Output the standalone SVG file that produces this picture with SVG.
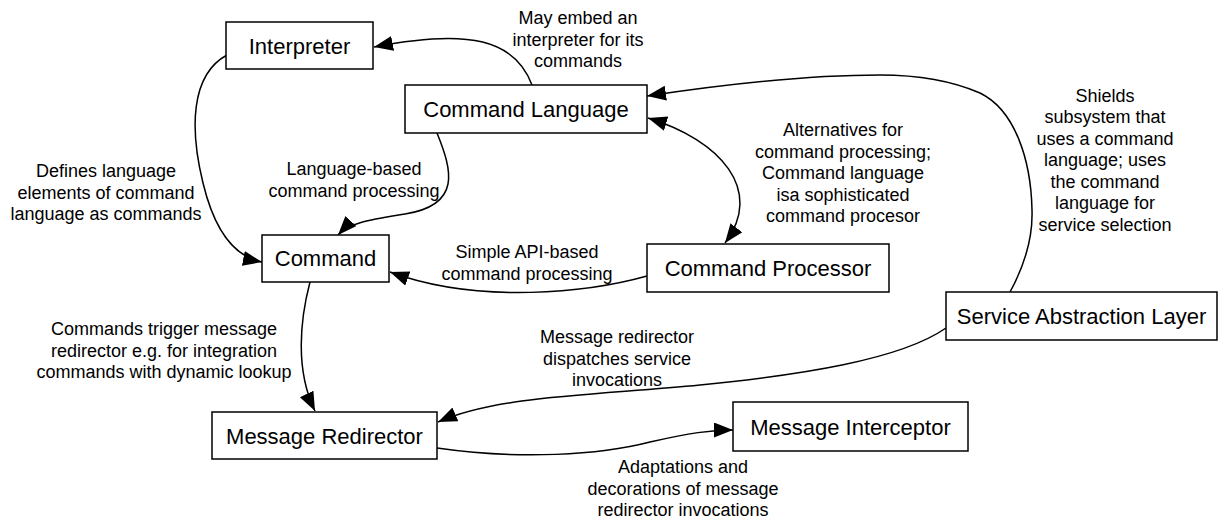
<svg xmlns="http://www.w3.org/2000/svg" width="1218" height="519" viewBox="0 0 1218 519">
<style>
.node rect{fill:#fff;stroke:#000;stroke-width:1.5}
.node text{font-family:"Liberation Sans",Arial,sans-serif;font-size:22px;text-anchor:middle;fill:#000}
.edge{fill:none;stroke:#000;stroke-width:1.5}
.lbl{font-family:"Liberation Sans",Arial,sans-serif;font-size:18px;text-anchor:middle;fill:#000}
</style>
<defs>
<marker id="arr" markerUnits="userSpaceOnUse" markerWidth="22" markerHeight="18" refX="19" refY="7.5" orient="auto">
<path d="M0,0 L19,7.5 L0,15 Z" fill="#000"/>
</marker>
<marker id="arrS" markerUnits="userSpaceOnUse" markerWidth="22" markerHeight="18" refX="19" refY="7.5" orient="auto-start-reverse">
<path d="M0,0 L19,7.5 L0,15 Z" fill="#000"/>
</marker>
</defs>
<rect width="1218" height="519" fill="#fff"/>
<g id="connectors">
<path class="edge" d="M532,85 C515,40 470,28 374,47" marker-end="url(#arr)"/>
<path class="edge" d="M227,55 C190,75 190,130 203,183 C210,212 225,255 262,262" marker-end="url(#arr)"/>
<path class="edge" d="M437,133 C452,170 462,205 405,214 C375,219 350,222 338,235" marker-end="url(#arr)"/>
<path class="edge" d="M647,276 C590,292 480,305 390,272" marker-end="url(#arr)"/>
<path class="edge" d="M648,118 C720,140 765,190 725,243" marker-start="url(#arrS)" marker-end="url(#arr)"/>
<path class="edge" d="M1010,292 C1022,270 1033,240 1032,210 C1031,160 1015,110 980,93 C950,80 915,75 880,75 C800,75 720,85 647,96" marker-end="url(#arr)"/>
<path class="edge" d="M946,328 C900,360 800,375 700,385 C600,395 500,395 438,422" marker-end="url(#arr)"/>
<path class="edge" d="M310,282 C300,320 295,370 315,411" marker-end="url(#arr)"/>
<path class="edge" d="M437,448 C520,460 600,455 650,442 C690,433 710,430 733,430" marker-end="url(#arr)"/>
</g>
<g id="labels">
<text class="lbl" x="578" y="24">May embed an</text>
<text class="lbl" x="578" y="45.5">interpreter for its</text>
<text class="lbl" x="578" y="67">commands</text>
<text class="lbl" x="106" y="177">Defines language</text>
<text class="lbl" x="106" y="198.5">elements of command</text>
<text class="lbl" x="106" y="220">language as commands</text>
<text class="lbl" x="354" y="175">Language-based</text>
<text class="lbl" x="354" y="196.5">command processing</text>
<text class="lbl" x="843" y="136">Alternatives for</text>
<text class="lbl" x="843" y="157.5">command processing;</text>
<text class="lbl" x="843" y="179">Command language</text>
<text class="lbl" x="843" y="200.5">isa sophisticated</text>
<text class="lbl" x="843" y="222">command procesor</text>
<text class="lbl" x="1105" y="101.5">Shields</text>
<text class="lbl" x="1105" y="123">subsystem that</text>
<text class="lbl" x="1105" y="144.5">uses a command</text>
<text class="lbl" x="1105" y="166">language; uses</text>
<text class="lbl" x="1105" y="187.5">the command</text>
<text class="lbl" x="1105" y="209">language for</text>
<text class="lbl" x="1105" y="230.5">service selection</text>
<text class="lbl" x="527" y="258">Simple API-based</text>
<text class="lbl" x="527" y="279.5">command processing</text>
<text class="lbl" x="164" y="335">Commands trigger message</text>
<text class="lbl" x="164" y="356.5">redirector e.g. for integration</text>
<text class="lbl" x="164" y="378">commands with dynamic lookup</text>
<text class="lbl" x="617" y="343">Message redirector</text>
<text class="lbl" x="617" y="364.5">dispatches service</text>
<text class="lbl" x="617" y="386">invocations</text>
<text class="lbl" x="683" y="473">Adaptations and</text>
<text class="lbl" x="683" y="494.5">decorations of message</text>
<text class="lbl" x="683" y="516">redirector invocations</text>
</g>
<g id="interpreter" class="node"><rect x="226" y="22" width="147" height="47"/><text x="299.5" y="53.5">Interpreter</text></g>
<g id="command-language" class="node"><rect x="405" y="85" width="242" height="48"/><text x="526" y="117">Command Language</text></g>
<g id="command" class="node"><rect x="262" y="235" width="127" height="47"/><text x="325.5" y="266">Command</text></g>
<g id="command-processor" class="node"><rect x="647" y="244" width="242" height="48"/><text x="768" y="276">Command Processor</text></g>
<g id="service-abstraction-layer" class="node"><rect x="946" y="292" width="271" height="48"/><text x="1081.5" y="324">Service Abstraction Layer</text></g>
<g id="message-redirector" class="node"><rect x="212" y="412" width="225" height="47"/><text x="324.5" y="443.5">Message Redirector</text></g>
<g id="message-interceptor" class="node"><rect x="733" y="402" width="235" height="49"/><text x="850.5" y="434.5">Message Interceptor</text></g>
</svg>
